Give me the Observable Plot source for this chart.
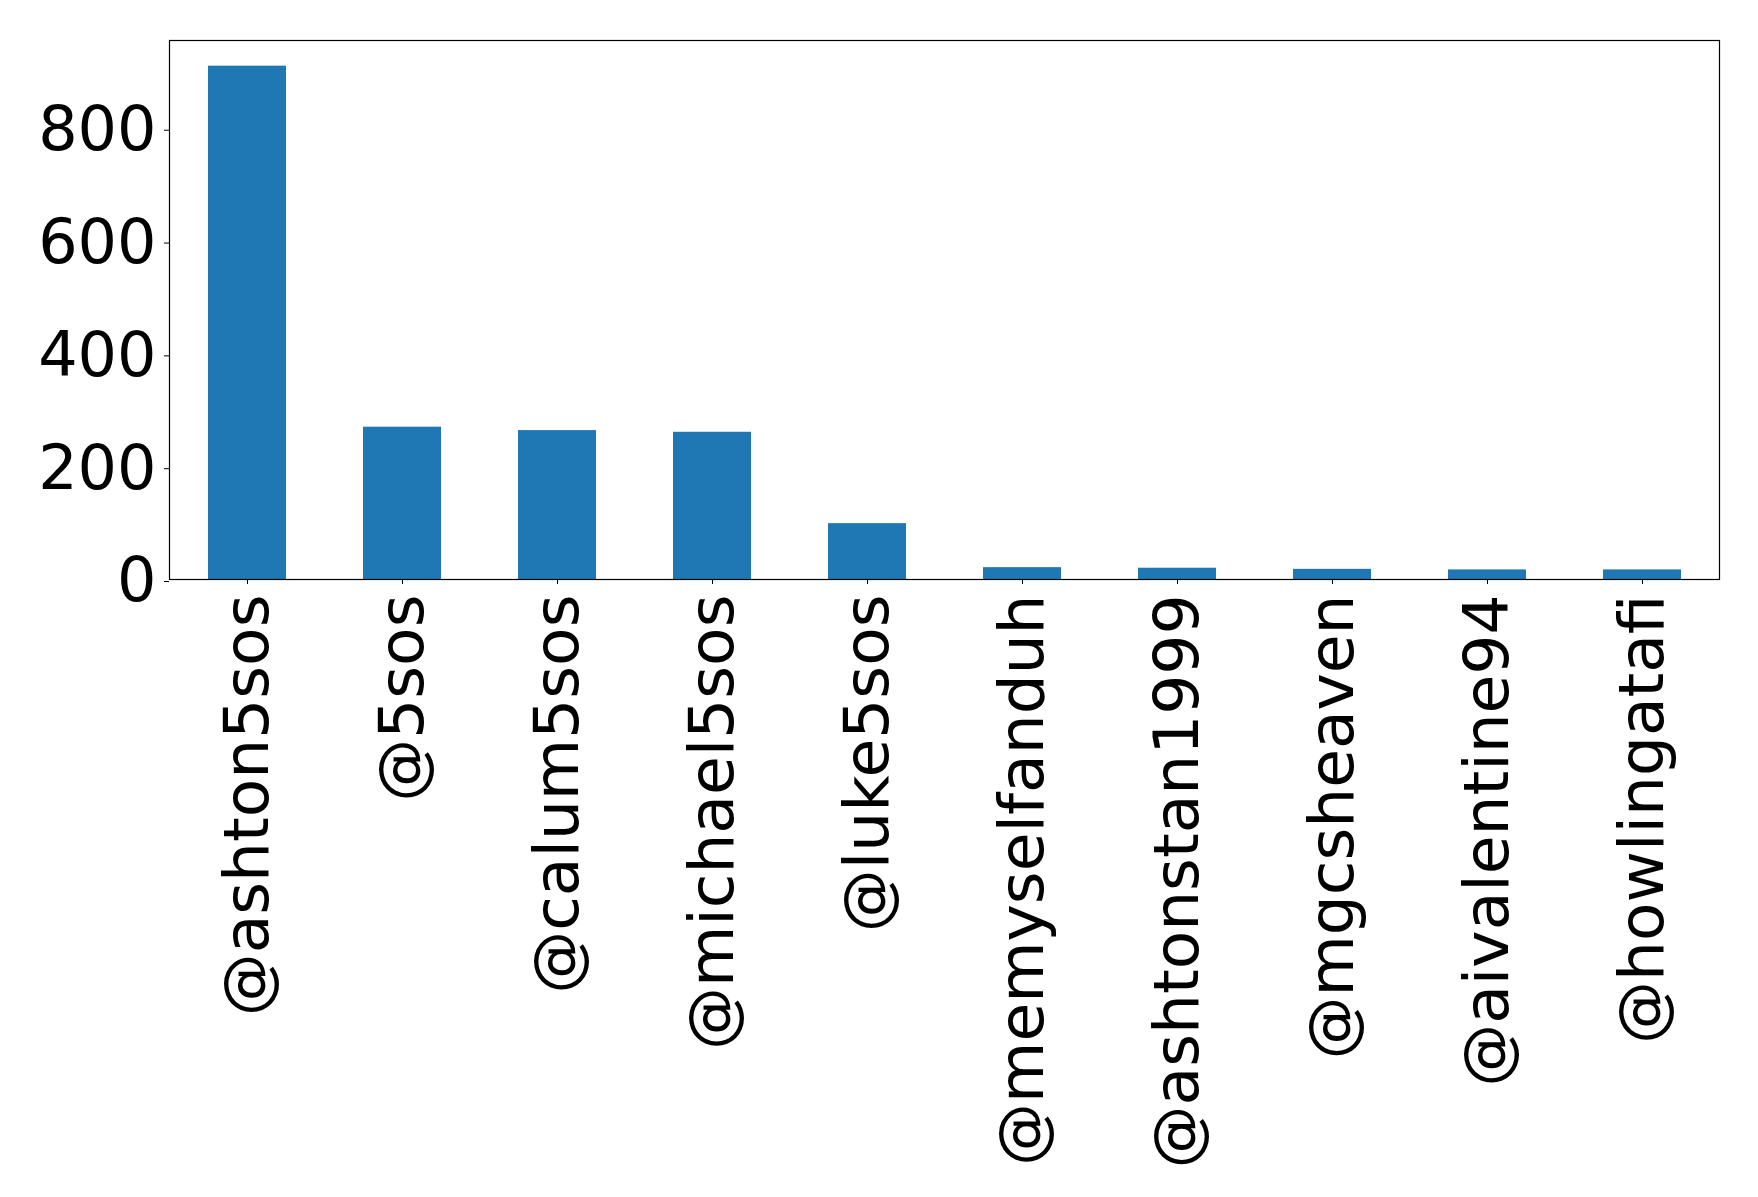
<!DOCTYPE html>
<html>
<head>
<meta charset="utf-8">
<script src="https://cdn.jsdelivr.net/npm/d3@7"></script>
<script src="https://cdn.jsdelivr.net/npm/@observablehq/plot@0.6"></script>
<style>
  html, body { margin: 0; padding: 0; background: #fff; }
  #chart svg { display: block; font-family: "DejaVu Sans", sans-serif; }
</style>
</head>
<body>
<div id="chart"></div>
<script>
// Most-mentioned accounts and their mention counts
const accounts = [
  "@ashton5sos", "@5sos", "@calum5sos", "@michael5sos", "@luke5sos",
  "@memyselfanduh", "@ashtonstan1999", "@mgcsheaven", "@aivalentine94", "@howlingatafi"
];
const counts = [910, 270, 264, 261, 99, 21, 20, 18, 17, 17];
const yTicks = [0, 200, 400, 600, 800];

const data = accounts.map((name, i) => ({ name, count: counts[i] }));

const chart = Plot.plot({
  width: 1758,
  height: 1197,
  marginLeft: 169,
  marginRight: 39,
  marginTop: 40,
  marginBottom: 618,
  style: { fontFamily: "DejaVu Sans, sans-serif", background: "#fff", color: "#000" },
  x: { domain: accounts, paddingInner: 0.5, paddingOuter: 0.25, label: null },
  y: { domain: [0, d3.max(counts) * 1.05], label: null },
  marks: [
    Plot.barY(data, { x: "name", y: "count", fill: "#1f77b4" }),
    Plot.frame({ stroke: "#000", strokeWidth: 1.2 }),
    Plot.axisY({ ticks: yTicks, tickSize: 5, tickPadding: 8, fontSize: 62, dy: 2, label: null, stroke: "#000" }),
    Plot.axisX({ tickSize: 5, tickPadding: 10, tickRotate: -90, fontSize: 63, label: null, stroke: "#000" })
  ]
});

document.getElementById("chart").appendChild(chart);
</script>
</body>
</html>
